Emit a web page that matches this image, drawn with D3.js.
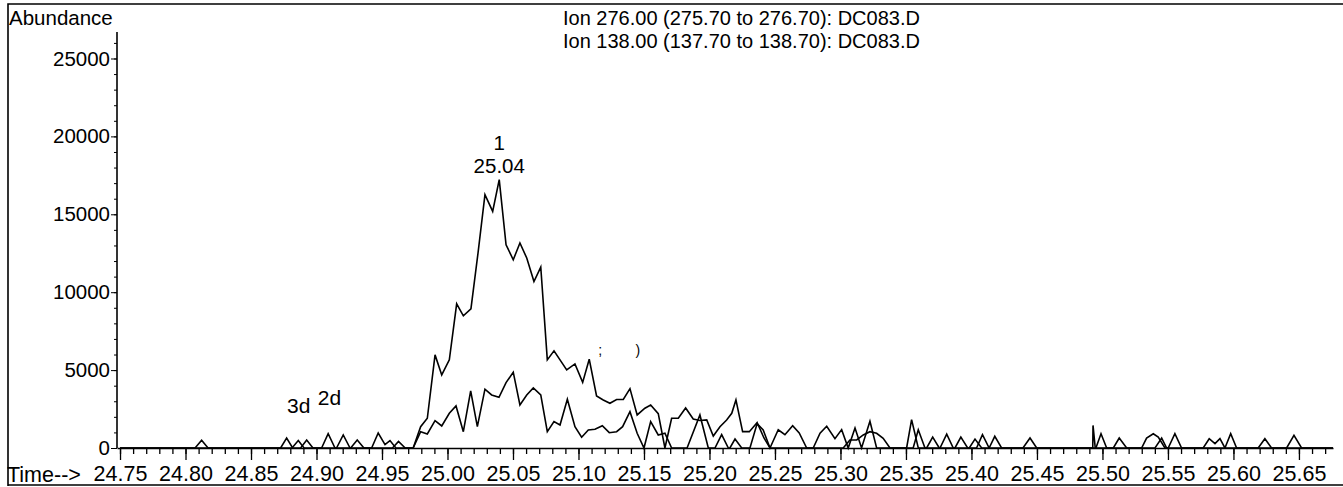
<!DOCTYPE html>
<html><head><meta charset="utf-8">
<script src="https://cdn.jsdelivr.net/npm/d3@7"></script>
<style>
body{margin:0;background:#fff;}
svg{display:block;font-family:"Liberation Sans",Arial,sans-serif;}
</style></head><body>
<svg id="c" width="1343" height="487"></svg>
<script>
// Ion 276.00 trace (large peak)
const timeA = [24.750,24.8073,24.8123,24.8172,24.8726,24.8772,24.8818,24.8879,24.8925,24.8973,24.9039,24.9089,24.9141,24.9261,24.9311,24.9362,24.9421,24.9471,24.9523,24.9561,24.9606,24.9738,24.9795,24.9846,24.9905,24.9956,25.0014,25.0070,25.0121,25.0179,25.0233,25.0286,25.0345,25.0395,25.0447,25.0502,25.0553,25.0605,25.0660,25.0712,25.0762,25.0813,25.0859,25.0910,25.0973,25.1032,25.1082,25.1138,25.1189,25.1240,25.1291,25.1342,25.1393,25.1448,25.1507,25.1551,25.1609,25.1660,25.1711,25.1762,25.1818,25.1876,25.1927,25.1979,25.2029,25.2080,25.2131,25.2170,25.2202,25.2253,25.2304,25.2360,25.2410,25.2462,25.2525,25.2576,25.2635,25.2685,25.2742,25.2792,25.2844,25.2895,25.2958,25.3009,25.3059,25.3111,25.3161,25.3225,25.3276,25.3505,25.3543,25.3594,25.3658,25.3704,25.3754,25.3874,25.3919,25.3971,25.4039,25.4084,25.4135,25.4393,25.4447,25.4498,25.4950,25.4989,25.5032,25.5299,25.5337,25.5388,25.5426,25.5477,25.5502,25.5553,25.5604,25.5769,25.5815,25.5859,25.5897,25.5935,25.6189,25.6240,25.6291,25.6760];
const abundA = [0,0,500,0,0,640,0,0,515,0,0,920,0,0,515,0,0,964,220,475,0,0,1369,1909,5977,4692,5656,9255,8484,8934,12513,16260,15187,17224,13047,12083,13156,12192,10688,11614,5656,6234,5656,5013,5399,4210,5701,3342,3085,2873,3117,3117,3811,2121,2552,2764,2204,0,1909,1909,2571,1864,1767,1800,771,1369,1800,2230,3085,1048,1048,1587,1157,0,1170,857,1435,964,0,0,950,1392,600,1178,0,1285,0,1714,0,0,1821,0,0,703,0,0,703,0,0,852,0,0,640,0,0,916,0,0,640,916,700,0,0,916,0,0,597,277,597,0,0,597,0,0];

// Ion 138.00 trace (smaller peak)
const timeB = [24.750,24.8813,24.8861,24.8905,24.9153,24.9204,24.9256,24.9580,24.9626,24.9677,24.9738,24.9795,24.9846,24.9905,24.9956,25.0014,25.0065,25.0121,25.0177,25.0228,25.0286,25.0337,25.0393,25.0447,25.0502,25.0553,25.0605,25.0655,25.0712,25.0762,25.0813,25.0859,25.0915,25.0973,25.1024,25.1075,25.1126,25.1182,25.1235,25.1291,25.1337,25.1393,25.1448,25.1500,25.1551,25.1609,25.1660,25.1711,25.1829,25.1927,25.1991,25.2042,25.2093,25.2144,25.2156,25.2195,25.2246,25.2309,25.2365,25.2416,25.2462,25.3021,25.3072,25.3124,25.3174,25.3225,25.3276,25.3326,25.3378,25.3555,25.3594,25.3645,25.3760,25.3811,25.3861,25.3983,25.4027,25.4078,25.4135,25.4178,25.4230,25.4926,25.4928,25.4945,25.5083,25.5128,25.5185,25.5401,25.5452,25.5490,25.5935,25.5979,25.6024,25.6406,25.6462,25.6520,25.6760];
const abundB = [0,0,480,0,0,835,0,0,420,0,0,1048,900,1755,1414,2230,2699,1048,3663,1369,3773,3406,3258,4197,4865,2764,3406,3856,3406,1048,1690,1478,3130,1369,688,1157,1202,1433,983,1048,1369,2333,945,0,1690,836,945,0,0,2121,0,0,857,0,0,578,0,0,1607,643,0,0,514,514,836,1048,945,623,0,0,1172,0,0,895,0,0,575,0,0,750,0,0,1450,0,0,640,0,0,640,0,0,916,0,0,810,0,0];

const xTickValues = [24.75,24.80,24.85,24.90,24.95,25.00,25.05,25.10,25.15,25.20,25.25,25.30,25.35,25.40,25.45,25.50,25.55,25.60,25.65];
const yTickValues = [0,5000,10000,15000,20000,25000];
const titleLines = ["Ion 276.00 (275.70 to 276.70): DC083.D","Ion 138.00 (137.70 to 138.70): DC083.D"];
const peakName = "1";
const sideLabels = ["3d","2d"];
const sideLabelTimes = [24.8775, 24.901];
const sideLabelLevels = [2250, 2760];

const FONT = "Liberation Sans, Arial, sans-serif";
const svg = d3.select("#c");
const x = d3.scaleLinear().domain([24.7477, 25.676]).range([117, 1333]);
const y = d3.scaleLinear().domain([0, 26700]).range([448, 32]);

// frame
svg.append("path").attr("d","M8,486 L8,4 L1343,4 M8,485 L1343,485")
  .attr("fill","none").attr("stroke","#000").attr("stroke-width",1.6);

// y axis
svg.append("line").attr("x1",117).attr("x2",117).attr("y1",y(0)).attr("y2",32)
  .attr("stroke","#000").attr("stroke-width",1.6);
const yMinor = d3.range(0, 26001, 1000);
svg.append("g").attr("transform","translate(117,0)")
  .call(d3.axisLeft(y).tickValues(yMinor).tickSize(3).tickFormat("").tickSizeOuter(0))
  .call(g=>g.select(".domain").remove())
  .call(g=>g.selectAll("line").attr("stroke","#000"));
svg.append("g").attr("transform","translate(117,0)")
  .call(d3.axisLeft(y).tickValues(yTickValues).tickSize(6).tickPadding(1).tickFormat(d3.format("d")).tickSizeOuter(0))
  .call(g=>g.select(".domain").remove())
  .call(g=>g.selectAll("line").attr("stroke","#000"))
  .call(g=>g.selectAll("text").attr("font-size",20.5).attr("fill","#000").attr("font-family",FONT));

// x axis
const xMinor = d3.range(0, 93).map(i => +(24.75 + i*0.01).toFixed(2));
svg.append("g").attr("transform",`translate(0,${y(0)})`)
  .call(d3.axisBottom(x).tickValues(xMinor).tickSize(6).tickFormat("").tickSizeOuter(0))
  .call(g=>g.select(".domain").attr("stroke","#000").attr("stroke-width",1.6))
  .call(g=>g.selectAll("line").attr("stroke","#000").attr("stroke-width",1.3));
svg.append("g").attr("transform",`translate(0,${y(0)})`)
  .call(d3.axisBottom(x).tickValues(xTickValues).tickSize(12).tickPadding(6).tickFormat(d3.format(".2f")).tickSizeOuter(0))
  .call(g=>g.select(".domain").remove())
  .call(g=>g.selectAll("line").attr("stroke","#000").attr("stroke-width",1.3))
  .call(g=>g.selectAll("text").attr("font-size",21.5).attr("fill","#000").attr("font-family",FONT));

svg.append("text").attr("x",7).attr("y",482).attr("font-size",21.5).text("Time-->");
svg.append("text").attr("x",9).attr("y",25).attr("font-size",20.5).text("Abundance");

titleLines.forEach((t,i)=>{
  svg.append("text").attr("x",563).attr("y",25+i*23).attr("font-size",20).text(t);
});

// traces
const line = d3.line().x(d=>x(d[0])).y(d=>y(d[1]));
[[timeA,abundA],[timeB,abundB]].forEach(([ts,vs])=>{
  svg.append("path").datum(ts.map((t,i)=>[t,vs[i]]))
    .attr("d",line).attr("fill","none").attr("stroke","#000")
    .attr("stroke-width",1.6).attr("stroke-linejoin","miter");
});

// peak annotation
const iMax = d3.maxIndex(abundA);
const px = x(timeA[iMax]), py = y(abundA[iMax]);
svg.append("text").attr("x",px).attr("y",py-7).attr("text-anchor","middle").attr("font-size",20.5)
  .text(d3.format(".2f")(timeA[iMax]));
svg.append("text").attr("x",px).attr("y",py-30).attr("text-anchor","middle").attr("font-size",20.5)
  .text(peakName);

sideLabels.forEach((s,i)=>{
  svg.append("text").attr("x",x(sideLabelTimes[i])).attr("y",y(sideLabelLevels[i]))
    .attr("font-size",21).text(s);
});

// small marks
svg.append("text").attr("x",x(25.1150)).attr("y",y(6000)).attr("font-size",14).text(";");
svg.append("text").attr("x",x(25.1435)).attr("y",y(6000)).attr("font-size",14).text(")");
</script>
</body></html>
